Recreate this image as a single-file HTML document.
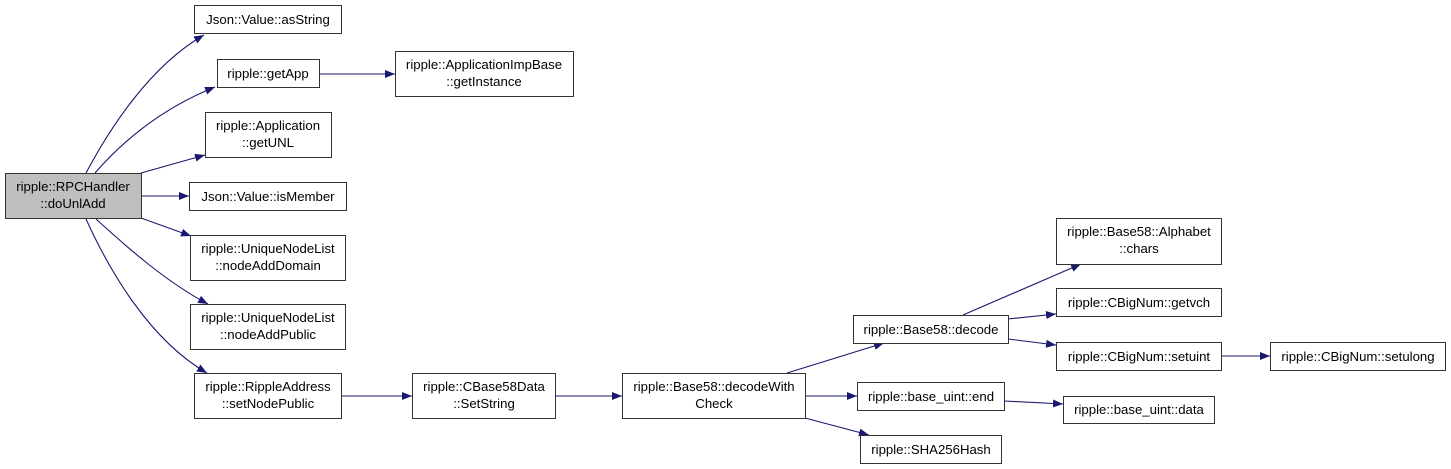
<!DOCTYPE html>
<html><head><meta charset="utf-8"><style>
html,body{margin:0;padding:0;background:#fff;}
svg{display:block;}
text{font-family:"Liberation Sans",Arial,sans-serif;font-size:13.2px;fill:#000;}
</style></head><body>
<svg width="1451" height="469" viewBox="0 0 1451 469" xmlns="http://www.w3.org/2000/svg">
<defs>
<marker id="a" markerUnits="userSpaceOnUse" markerWidth="11" markerHeight="8" refX="10" refY="4" orient="auto">
<path d="M0,0 L10,4 L0,8 z" fill="#191970"/>
</marker>
</defs>
<g fill="none" stroke="#191970" stroke-width="1.1" marker-end="url(#a)">
<path d="M86,173 C110,128 150,66 204,35"/>
<path d="M95,173 C128,135 168,106 215,87"/>
<path d="M141,173 L205,155"/>
<path d="M141,196 L189,196"/>
<path d="M141,218 L191,236"/>
<path d="M96,219 C130,250 168,283 208,304"/>
<path d="M86,219 C110,272 150,340 207,373"/>
<path d="M319,74 L395,74"/>
<path d="M341,396 L412,396"/>
<path d="M555,396 L622,396"/>
<path d="M787,373 L884,343"/>
<path d="M805,396 L857,396"/>
<path d="M805,418 L869,435"/>
<path d="M963,315 L1081,264"/>
<path d="M1008,319 L1056,314"/>
<path d="M1008,339 L1056,345"/>
<path d="M1221,356 L1270,356"/>
<path d="M1004,401 L1063,404"/>
</g>
<g stroke="#333" stroke-width="1">
<rect x="5.5" y="173.5" width="136" height="45" fill="#bfbfbf"/>
<rect x="194.5" y="5.5" width="147" height="28" fill="#fff"/>
<rect x="217.5" y="59.5" width="102" height="28" fill="#fff"/>
<rect x="395.5" y="51.5" width="178" height="45" fill="#fff"/>
<rect x="205.5" y="112.5" width="126" height="45" fill="#fff"/>
<rect x="189.5" y="182.5" width="157" height="28" fill="#fff"/>
<rect x="190.5" y="235.5" width="155" height="45" fill="#fff"/>
<rect x="190.5" y="304.5" width="155" height="45" fill="#fff"/>
<rect x="194.5" y="373.5" width="147" height="45" fill="#fff"/>
<rect x="412.5" y="373.5" width="143" height="45" fill="#fff"/>
<rect x="622.5" y="373.5" width="183" height="45" fill="#fff"/>
<rect x="853.5" y="315.5" width="155" height="28" fill="#fff"/>
<rect x="1056.5" y="218.5" width="165" height="46" fill="#fff"/>
<rect x="1056.5" y="288.5" width="165" height="28" fill="#fff"/>
<rect x="1056.5" y="342.5" width="165" height="28" fill="#fff"/>
<rect x="1270.5" y="342.5" width="175" height="28" fill="#fff"/>
<rect x="857.5" y="382.5" width="147" height="28" fill="#fff"/>
<rect x="1063.5" y="396.5" width="151" height="27" fill="#fff"/>
<rect x="860.5" y="435.5" width="141" height="28" fill="#fff"/>
</g>
<g text-anchor="middle">
<text x="73" y="191">ripple::RPCHandler</text><text x="73" y="208">::doUnlAdd</text>
<text x="268" y="24">Json::Value::asString</text>
<text x="268" y="78">ripple::getApp</text>
<text x="484" y="69">ripple::ApplicationImpBase</text><text x="484" y="86">::getInstance</text>
<text x="268" y="130">ripple::Application</text><text x="268" y="147">::getUNL</text>
<text x="268" y="201">Json::Value::isMember</text>
<text x="268" y="253">ripple::UniqueNodeList</text><text x="268" y="270">::nodeAddDomain</text>
<text x="268" y="322">ripple::UniqueNodeList</text><text x="268" y="339">::nodeAddPublic</text>
<text x="268" y="391">ripple::RippleAddress</text><text x="268" y="408">::setNodePublic</text>
<text x="484" y="391">ripple::CBase58Data</text><text x="484" y="408">::SetString</text>
<text x="714" y="391">ripple::Base58::decodeWith</text><text x="714" y="408">Check</text>
<text x="931" y="334">ripple::Base58::decode</text>
<text x="1139" y="236">ripple::Base58::Alphabet</text><text x="1139" y="253">::chars</text>
<text x="1139" y="307">ripple::CBigNum::getvch</text>
<text x="1139" y="361">ripple::CBigNum::setuint</text>
<text x="1358" y="361">ripple::CBigNum::setulong</text>
<text x="931" y="401">ripple::base_uint::end</text>
<text x="1139" y="414">ripple::base_uint::data</text>
<text x="931" y="454">ripple::SHA256Hash</text>
</g>
</svg>
</body></html>
